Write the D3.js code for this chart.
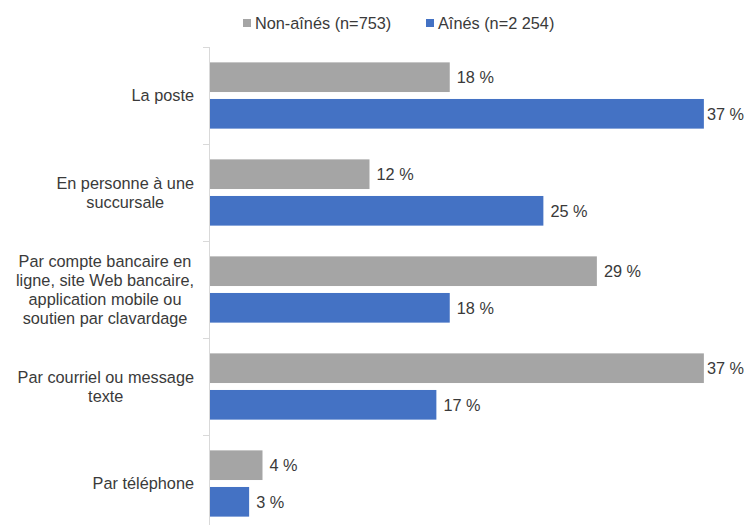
<!DOCTYPE html>
<html>
<head>
<meta charset="utf-8">
<script src="https://cdn.jsdelivr.net/npm/d3@7"></script>
<style>
  html, body { margin: 0; padding: 0; background: #ffffff; }
  svg { display: block; font-family: "Liberation Sans", Arial, sans-serif; }
</style>
</head>
<body>
<svg id="chart" width="745" height="525"></svg>
<script>
// Channels used to contact the financial institution, by group (%)
const categories = [
  ["La poste"],
  ["En personne à une", "succursale"],
  ["Par compte bancaire en", "ligne, site Web bancaire,", "application mobile ou", "soutien par clavardage"],
  ["Par courriel ou message", "texte"],
  ["Par téléphone"]
];
const seriesNames = ["Non-aînés (n=753)", "Aînés (n=2 254)"];
const nonAines = [18, 12, 29, 37, 4];
const aines = [37, 25, 18, 17, 3];
const seriesColors = ["#A5A5A5", "#4472C4"];

const width = 745, height = 525;
const svg = d3.select("#chart");
const catKeys = categories.map(c => c.join(" "));
const seriesValues = [nonAines, aines];
const fontSize = 16.3;
const textColor = "#3A3A3A";

const margin = { left: 209, top: 47 };
const step = 97;

const y = d3.scaleBand()
  .domain(catKeys)
  .range([margin.top, margin.top + step * catKeys.length])
  .padding(0);

const yInner = d3.scaleBand()
  .domain(d3.range(seriesNames.length))
  .range([0, y.bandwidth()])
  .paddingInner(0.19)
  .paddingOuter(0.42);

const x = d3.scaleLinear().domain([0, 40]).range([margin.left, 744]);

// Bars with value labels (labels kept inside the right edge)
catKeys.forEach((key, i) => {
  const g = svg.append("g").attr("transform", `translate(0,${y(key)})`);
  seriesValues.forEach((vals, s) => {
    const v = vals[i];
    g.append("rect")
      .attr("x", x(0))
      .attr("y", yInner(s))
      .attr("width", x(v) - x(0))
      .attr("height", yInner.bandwidth())
      .attr("fill", seriesColors[s]);
    const label = g.append("text")
      .attr("x", x(v) + 7)
      .attr("y", yInner(s) + yInner.bandwidth() / 2)
      .attr("dy", "0.35em")
      .attr("font-size", fontSize)
      .attr("fill", textColor)
      .text(v + " %");
    const bb = label.node().getBBox();
    const overflow = bb.x + bb.width - (width - 2);
    if (overflow > 0) label.attr("x", x(v) + Math.max(3, 7 - overflow));
  });
});

// Category axis: line with ticks at band boundaries
const axisG = svg.append("g");
axisG.append("line")
  .attr("x1", x(0) + 0.5).attr("x2", x(0) + 0.5)
  .attr("y1", margin.top).attr("y2", height)
  .attr("stroke", "#D9D9D9").attr("stroke-width", 1);
catKeys.forEach(key => {
  axisG.append("line")
    .attr("x1", x(0) - 6).attr("x2", x(0) + 0.5)
    .attr("y1", Math.round(y(key)) + 0.5).attr("y2", Math.round(y(key)) + 0.5)
    .attr("stroke", "#D9D9D9").attr("stroke-width", 1);
});

// Category labels, centred multi-line blocks set against the axis
const lineH = 19;
categories.forEach((lines, i) => {
  const cy = y(catKeys[i]) + y.bandwidth() / 2;
  const t = svg.append("text")
    .attr("text-anchor", "middle")
    .attr("font-size", fontSize)
    .attr("fill", textColor);
  lines.forEach((l, j) => {
    t.append("tspan")
      .attr("x", 0)
      .attr("y", cy + (j - (lines.length - 1) / 2) * lineH)
      .attr("dy", "0.35em")
      .text(l);
  });
  const bb = t.node().getBBox();
  t.attr("transform", `translate(${x(0) - 15 - bb.width / 2},0)`);
});

// Legend
const legendX = [243, 426];
seriesNames.forEach((name, s) => {
  svg.append("rect")
    .attr("x", legendX[s]).attr("y", 19)
    .attr("width", 8).attr("height", 8)
    .attr("fill", seriesColors[s]);
  svg.append("text")
    .attr("x", legendX[s] + 12)
    .attr("y", 23)
    .attr("dy", "0.35em")
    .attr("font-size", fontSize)
    .attr("fill", textColor)
    .text(name);
});
</script>
</body>
</html>
